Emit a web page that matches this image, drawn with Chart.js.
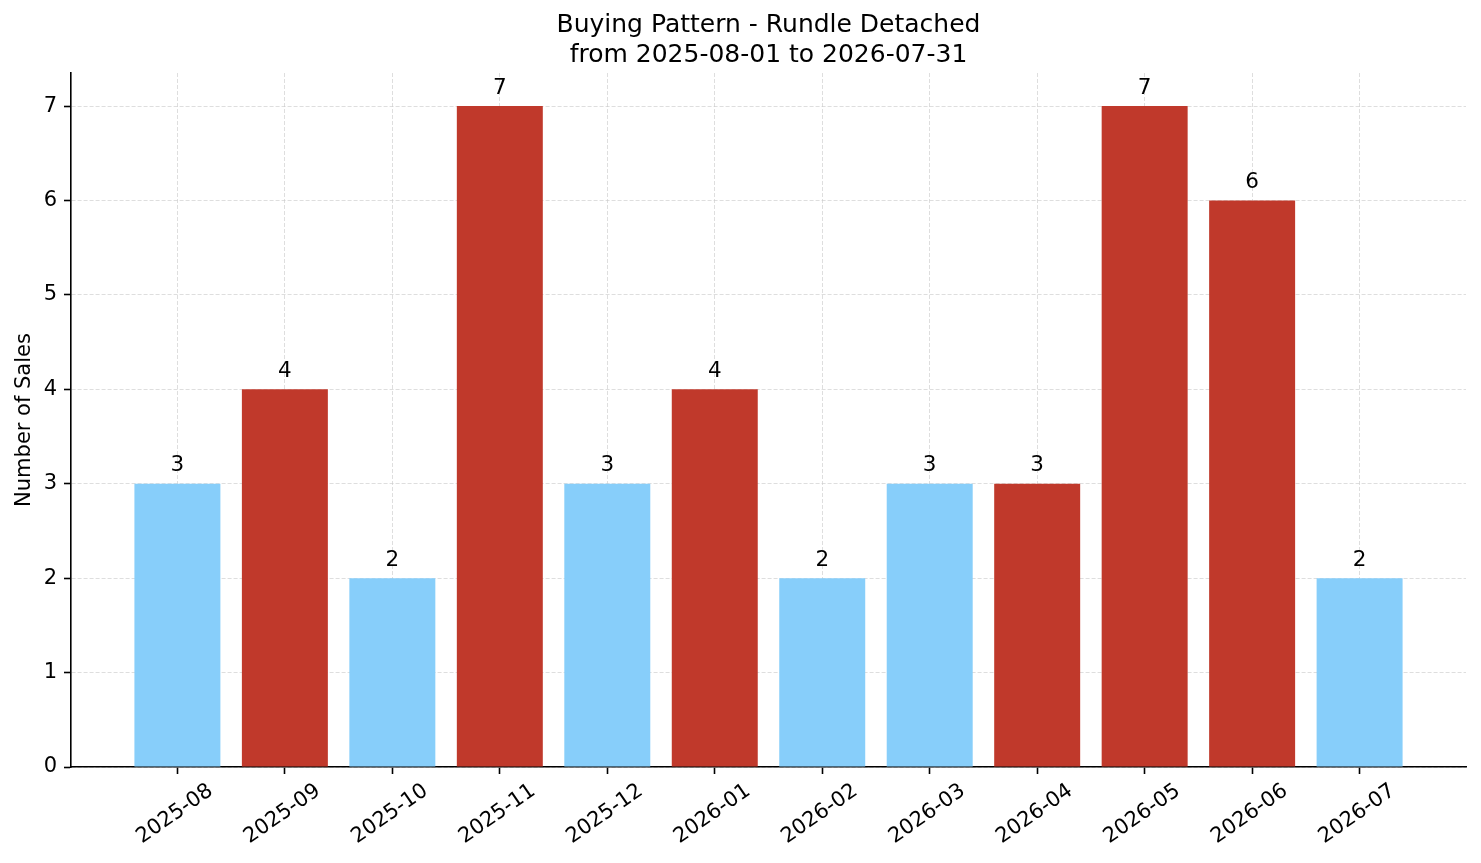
<!DOCTYPE html>
<html lang="en">
<head>
  <meta charset="UTF-8" />
  <title>Buying Pattern - Rundle Detached</title>
  <script src="https://cdn.jsdelivr.net/npm/chart.js"></script>
  <style>
    body { margin: 0; background: #fff; }
    #chartWrap { width: 1481px; height: 863px; }
  </style>
</head>
<body>

<div id="chartWrap">
  <canvas id="salesChart"></canvas>
</div>

<script>
  const months = ['2025-08', '2025-09', '2025-10', '2025-11', '2025-12', '2026-01',
                  '2026-02', '2026-03', '2026-04', '2026-05', '2026-06', '2026-07'];
  const sales = [3, 4, 2, 7, 3, 4, 2, 3, 3, 7, 6, 2];
  const highlighted = [false, true, false, true, false, true, false, false, true, true, true, false];
  const titleLines = ['Buying Pattern - Rundle Detached', 'from 2025-08-01 to 2026-07-31'];

  const FONT = '"DejaVu Sans", "Liberation Sans", sans-serif';
  const gridColor = 'rgba(200, 200, 200, 0.6)';

  // value labels on top of each bar
  const barLabels = {
    id: 'barLabels',
    afterDatasetsDraw(chart) {
      const ctx = chart.ctx;
      const meta = chart.getDatasetMeta(0);
      ctx.save();
      ctx.font = '21.5px ' + FONT;
      ctx.fillStyle = '#000';
      ctx.textAlign = 'center';
      ctx.textBaseline = 'alphabetic';
      meta.data.forEach((bar, i) => {
        ctx.fillText(String(sales[i]), bar.x, bar.y - 12.5);
      });
      ctx.restore();
    }
  };

  // rotated month labels, centred under each tick like matplotlib
  const monthLabels = {
    id: 'monthLabels',
    afterDraw(chart) {
      const ctx = chart.ctx;
      const xs = chart.scales.x;
      ctx.save();
      ctx.font = '21px ' + FONT;
      ctx.fillStyle = '#000';
      ctx.textAlign = 'center';
      ctx.textBaseline = 'middle';
      months.forEach((m, i) => {
        const x = xs.getPixelForValue(i);
        ctx.save();
        ctx.translate(x - 2.5, xs.top + 47);
        ctx.rotate(-35 * Math.PI / 180);
        ctx.fillText(m, 0, 0);
        ctx.restore();
      });
      ctx.restore();
    }
  };

  const ctx = document.getElementById('salesChart').getContext('2d');

  new Chart(ctx, {
    type: 'bar',
    data: {
      datasets: [{
        data: months.map((m, i) => ({ x: i, y: sales[i] })),
        backgroundColor: highlighted.map(h => h ? '#c0392b' : '#87cefa'),
        borderWidth: 0,
        barPercentage: 0.8,
        categoryPercentage: 1.0
      }]
    },
    options: {
      responsive: true,
      maintainAspectRatio: false,
      animation: false,
      devicePixelRatio: 1,
      layout: { padding: { left: 0, right: 15, top: 0, bottom: 0 } },
      plugins: {
        legend: { display: false },
        tooltip: { enabled: false },
        title: {
          display: true,
          fullSize: false,
          text: titleLines,
          color: '#000',
          font: { family: FONT, size: 25, weight: 'normal', lineHeight: 1.2 },
          padding: { top: 10, bottom: 3 }
        }
      },
      scales: {
        x: {
          type: 'linear',
          min: -0.99,
          max: 11.99,
          offset: false,
          z: 1,
          ticks: { display: false, stepSize: 1, includeBounds: false },
          grid: {
            offset: false,
            color: gridColor,
            lineWidth: 1,
            tickLength: 7,
            tickWidth: 1.6,
            tickColor: '#000'
          },
          border: { color: '#000', width: 1.6, dash: [4, 2] },
          afterFit(scale) { scale.height = 96; }
        },
        y: {
          min: 0,
          max: 7.35,
          z: 1,
          ticks: {
            stepSize: 1,
            includeBounds: false,
            color: '#000',
            padding: 7,
            font: { family: FONT, size: 21 }
          },
          grid: {
            color: gridColor,
            lineWidth: 1,
            tickLength: 7,
            tickWidth: 1.6,
            tickColor: '#000'
          },
          border: { color: '#000', width: 1.6, dash: [4, 2] },
          title: {
            display: true,
            text: 'Number of Sales',
            color: '#000',
            font: { family: FONT, size: 21 },
            padding: { top: 12, bottom: 0 }
          },
          afterFit(scale) { scale.width = 71; }
        }
      }
    },
    plugins: [barLabels, monthLabels]
  });
</script>

</body>
</html>
